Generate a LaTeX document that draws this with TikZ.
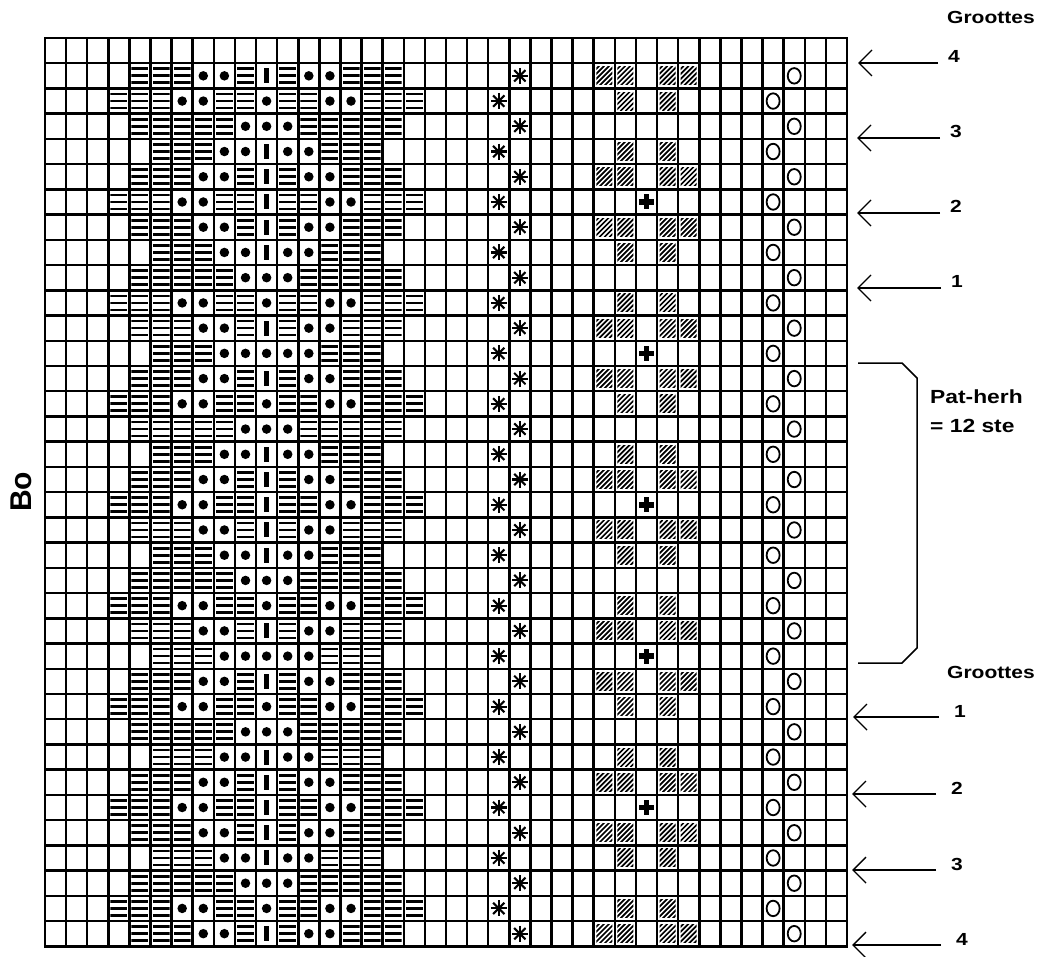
\documentclass[tikz,border=0pt]{standalone}
\usepackage{fontspec}
\usepackage{tikz}
\usetikzlibrary{positioning,shapes.geometric,arrows.meta}
\newfontfamily\kaartfont[FakeStretch=1.2]{Liberation Sans}
\newfontfamily\bofont{Liberation Sans}
\tikzset{
  % hokjes van het telpatroon
  rooster/.style={line width=2.5pt,line cap=rect},
  % symbolen in de hokjes
  % gebruik: \node[stijl] (naam) at (kolom+.5,rij+.5) {};
  bol/.style={circle,fill=black,inner sep=0pt,minimum size=9.5pt},
  staaf/.style={rectangle,fill=black,inner sep=0pt,minimum width=5.5pt,minimum height=15pt},
  ring/.style={ellipse,draw=black,line width=1.8pt,inner sep=0pt,minimum width=13pt,minimum height=15.5pt},
  streep/.style={rectangle,fill=white,inner sep=0pt,minimum width=17pt,minimum height=17pt,path picture={
    \foreach \h in {-7,0,7} \fill[black] ([shift={(-8.5pt,\h pt-1.35pt)}]path picture bounding box.center) rectangle ++(17pt,2.7pt);}},
  arcering/.style={rectangle,fill=white,inner sep=0pt,minimum width=16pt,minimum height=18pt,path picture={
    \foreach \k in {-3,...,3} \draw[black,line width=1.7pt] ([shift={(\k*5pt-10pt,-10pt)}]path picture bounding box.center) -- ++(20pt,20pt);}},
  ster/.style={circle,fill=white,inner sep=0pt,minimum size=17pt,path picture={
    \foreach \a in {0,45,90,135} \draw[black,line width=2.1pt] ([shift={(\a:8pt)}]path picture bounding box.center) -- ([shift={(\a+180:8pt)}]path picture bounding box.center);}},
  kruis/.style={rectangle,fill=white,inner sep=0pt,minimum size=16pt,path picture={
    \fill[black] ([shift={(-7.5pt,-2.8pt)}]path picture bounding box.center) rectangle ++(15pt,5.6pt);
    \fill[black] ([shift={(-2.8pt,-7.5pt)}]path picture bounding box.center) rectangle ++(5.6pt,15pt);}},
  % tekst, pijlen en haak rechts
  maat/.style={font=\kaartfont\bfseries\fontsize{17.5}{20}\selectfont,inner sep=0pt,anchor=base west},
  herh/.style={font=\kaartfont\bfseries\fontsize{19}{22}\selectfont,inner sep=0pt,anchor=base west},
  pijl/.style={line width=1.4pt,-{Straight Barb[length=13pt,width=26pt]}},
  haak/.style={line width=1.5pt},
}

\begin{document}
\begin{tikzpicture}[x=1pt,y=-1pt]
  \useasboundingbox (0,0) rectangle (1038,957);
  \begin{scope}[shift={(45,38)},x=21.105pt,y=-25.23pt]
    \foreach \c in {0,...,38} \draw[rooster] (\c,0) -- (\c,36);
    \foreach \r in {0,...,36} \draw[rooster] (0,\r) -- (38,\r);
    % motief links: afstand tot kolom 10
    \foreach \k in {0,12,24}
      \foreach \i/\strepen/\bollen/\midden in {1/{1,4,5,6}/{2,3}/staaf,2/{1,2,5,6,7}/{3,4}/bol,
        3/{2,3,4,5,6}/{1}/bol,4/{3,4,5}/{1,2}/staaf,5/{1,4,5,6}/{2,3}/staaf,6/{1,2,5,6,7}/{3,4}/staaf,
        7/{1,4,5,6}/{2,3}/staaf,8/{3,4,5}/{1,2}/staaf,9/{2,3,4,5,6}/{1}/bol,10/{1,2,5,6,7}/{3,4}/bol,
        11/{1,4,5,6}/{2,3}/staaf,12/{3,4,5}/{1,2}/bol}{
        \pgfmathtruncatemacro{\r}{\k+\i}
        \ifnum\r<36
          \node[\midden] (mid-\r) at (10.5,\r+0.5) {};
          \foreach \o in \strepen {
            \node[streep] (str-\r-l\o) at (10.5-\o,\r+0.5) {};
            \node[streep] (str-\r-r\o) at (10.5+\o,\r+0.5) {};
          }
          \foreach \o in \bollen {
            \node[bol] (bol-\r-l\o) at (10.5-\o,\r+0.5) {};
            \node[bol] (bol-\r-r\o) at (10.5+\o,\r+0.5) {};
          }
        \fi
      }
    % rechts
    \foreach \r in {1,...,35}{
      \pgfmathtruncatemacro{\cs}{21+mod(\r,2)}
      \node[ster] (ster-\r) at (\cs+0.5,\r+0.5) {};
      \node[ring] (ring-\r) at (\cs+13.5,\r+0.5) {};
    }
    \foreach \r in {1,5,7,11,13,17,19,23,25,29,31,35}
      \foreach \c in {26,27,29,30} \node[arcering] (arc-\r-\c) at (\c+0.5,\r+0.5) {};
    \foreach \r in {2,4,8,10,14,16,20,22,26,28,32,34}
      \foreach \c in {27,29} \node[arcering] (arc-\r-\c) at (\c+0.5,\r+0.5) {};
    \foreach \r in {6,12,18,24,30} \node[kruis] (kruis-\r) at (28.5,\r+0.5) {};
  \end{scope}

  \node[font=\bofont\bfseries\fontsize{30}{34}\selectfont,rotate=90] (bo) at (21,492) {Bo};

  % maten boven
  \node[maat] (gr1) at (947,24) {Groottes};
  \node[maat] (b4) at (948,63) {4};
  \node[maat] (b3) at (950,138) {3};
  \node[maat] (b2) at (950,213) {2};
  \node[maat] (b1) at (951,288) {1};
  \coordinate (pb4) at (858,63);
  \coordinate (pb3) at (857,138);
  \coordinate (pb2) at (857,213);
  \coordinate (pb1) at (857,288);
  \foreach \m in {1,...,4} \draw[pijl] ([xshift=-10pt]b\m.base west) -- (pb\m);

  % patroonherhaling
  \coordinate (hb) at (858,363);
  \coordinate (he) at (858,663);
  \draw[haak] (hb) -- ++(44,0) -- ++(15,15) -- ++(0,270) -- ++(-15,15) -- (he);
  \node[herh] (ph) at (930,403) {Pat-herh};
  \node[herh] (ps) at (930,432) {= 12 ste};

  % maten onder
  \node[maat] (gr2) at (947,678) {Groottes};
  \node[maat] (o1) at (954,717) {1};
  \node[maat] (o2) at (951,794) {2};
  \node[maat] (o3) at (951,870) {3};
  \node[maat] (o4) at (956,945) {4};
  \coordinate (po1) at (853,717);
  \coordinate (po2) at (852,794);
  \coordinate (po3) at (852,870);
  \coordinate (po4) at (852,945);
  \foreach \m in {1,...,4} \draw[pijl] ([xshift=-15pt]o\m.base west) -- (po\m);
\end{tikzpicture}
\end{document}
